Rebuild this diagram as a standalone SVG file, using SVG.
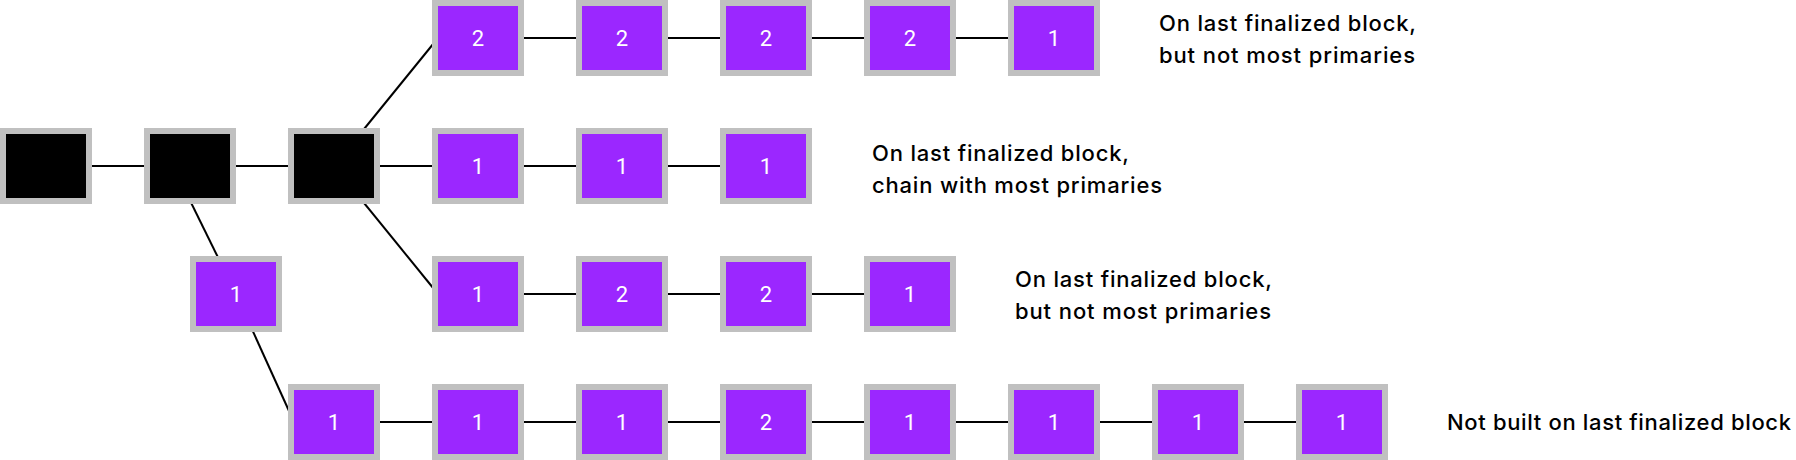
<svg xmlns="http://www.w3.org/2000/svg" width="1796" height="460" viewBox="0 0 1796 460">
<style>
.b{stroke:#c0c0c0;stroke-width:6}
.k{fill:#000}
.p{fill:#9b27ff}
.n{font-family:Roboto,"Liberation Sans",sans-serif;font-size:22px;fill:#fff;text-anchor:middle}
.l{font-family:Inter,"Liberation Sans",sans-serif;font-size:22px;font-weight:500;fill:#000}
#edges line{stroke:#000;stroke-width:2}
</style>
<rect width="1796" height="460" fill="#fff"/>
<g id="edges">
<line x1="46" y1="166" x2="766" y2="166"/>
<line x1="334" y1="166" x2="438" y2="38"/>
<line x1="334" y1="166" x2="438" y2="294"/>
<line x1="173" y1="166" x2="236" y2="294"/>
<line x1="236" y1="294" x2="294" y2="422"/>
<line x1="478" y1="38" x2="1054" y2="38"/>
<line x1="478" y1="294" x2="910" y2="294"/>
<line x1="334" y1="422" x2="1342" y2="422"/>
</g>
<g id="g1"><rect class="b k" x="3" y="131" width="86" height="70"/></g>
<g id="g2"><rect class="b k" x="147" y="131" width="86" height="70"/></g>
<g id="g3"><rect class="b k" x="291" y="131" width="86" height="70"/></g>
<g id="a1"><rect class="b p" x="435" y="3" width="86" height="70"/><text class="n" x="478" y="46">2</text></g>
<g id="a2"><rect class="b p" x="579" y="3" width="86" height="70"/><text class="n" x="622" y="46">2</text></g>
<g id="a3"><rect class="b p" x="723" y="3" width="86" height="70"/><text class="n" x="766" y="46">2</text></g>
<g id="a4"><rect class="b p" x="867" y="3" width="86" height="70"/><text class="n" x="910" y="46">2</text></g>
<g id="a5"><rect class="b p" x="1011" y="3" width="86" height="70"/><text class="n" x="1054" y="46">1</text></g>
<g id="c1"><rect class="b p" x="435" y="131" width="86" height="70"/><text class="n" x="478" y="174">1</text></g>
<g id="c2"><rect class="b p" x="579" y="131" width="86" height="70"/><text class="n" x="622" y="174">1</text></g>
<g id="c3"><rect class="b p" x="723" y="131" width="86" height="70"/><text class="n" x="766" y="174">1</text></g>
<g id="m1"><rect class="b p" x="193" y="259" width="86" height="70"/><text class="n" x="236" y="302">1</text></g>
<g id="d1"><rect class="b p" x="435" y="259" width="86" height="70"/><text class="n" x="478" y="302">1</text></g>
<g id="d2"><rect class="b p" x="579" y="259" width="86" height="70"/><text class="n" x="622" y="302">2</text></g>
<g id="d3"><rect class="b p" x="723" y="259" width="86" height="70"/><text class="n" x="766" y="302">2</text></g>
<g id="d4"><rect class="b p" x="867" y="259" width="86" height="70"/><text class="n" x="910" y="302">1</text></g>
<g id="e1"><rect class="b p" x="291" y="387" width="86" height="70"/><text class="n" x="334" y="430">1</text></g>
<g id="e2"><rect class="b p" x="435" y="387" width="86" height="70"/><text class="n" x="478" y="430">1</text></g>
<g id="e3"><rect class="b p" x="579" y="387" width="86" height="70"/><text class="n" x="622" y="430">1</text></g>
<g id="e4"><rect class="b p" x="723" y="387" width="86" height="70"/><text class="n" x="766" y="430">2</text></g>
<g id="e5"><rect class="b p" x="867" y="387" width="86" height="70"/><text class="n" x="910" y="430">1</text></g>
<g id="e6"><rect class="b p" x="1011" y="387" width="86" height="70"/><text class="n" x="1054" y="430">1</text></g>
<g id="e7"><rect class="b p" x="1155" y="387" width="86" height="70"/><text class="n" x="1198" y="430">1</text></g>
<g id="e8"><rect class="b p" x="1299" y="387" width="86" height="70"/><text class="n" x="1342" y="430">1</text></g>
<g id="labels">
<text class="l" x="1159" y="30.5" textLength="257" lengthAdjust="spacing">On last finalized block,</text>
<text class="l" x="1159" y="62.5" textLength="256" lengthAdjust="spacing">but not most primaries</text>
<text class="l" x="872" y="160.5" textLength="257" lengthAdjust="spacing">On last finalized block,</text>
<text class="l" x="872" y="192.5" textLength="290" lengthAdjust="spacing">chain with most primaries</text>
<text class="l" x="1015" y="286.5" textLength="257" lengthAdjust="spacing">On last finalized block,</text>
<text class="l" x="1015" y="318.5" textLength="256" lengthAdjust="spacing">but not most primaries</text>
<text class="l" x="1447" y="429.5" textLength="344" lengthAdjust="spacing">Not built on last finalized block</text>
</g>
</svg>
